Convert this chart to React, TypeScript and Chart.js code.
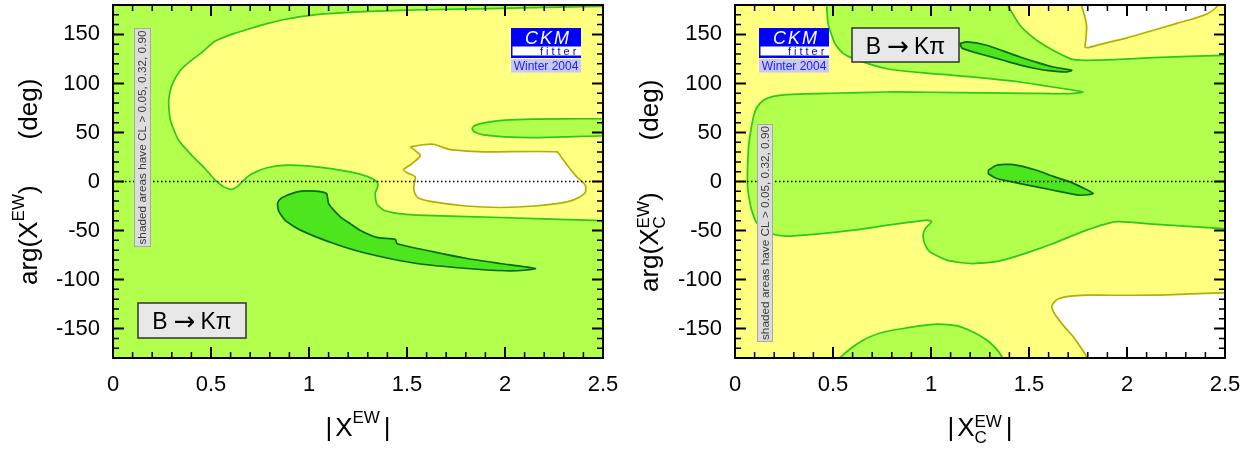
import React, { useEffect, useRef } from "react";
import { Chart, registerables } from "chart.js";

Chart.register(...registerables);

type P = [number, number];

// ---------- axis data ----------
const xTickValues = [0, 0.5, 1, 1.5, 2, 2.5];
const yTickValues = [-150, -100, -50, 0, 50, 100, 150];
const xLimits = [0, 2.5];
const yLimits = [-180, 180];
const zeroLine: P[] = [[0, 0], [2.5, 0]];

// ---------- left panel: |X^EW| vs arg(X^EW) ----------
const leftYellow: P[] = [
  [2.6, 179.2], [2.49, 178.6], [2.2, 177.6], [1.976, 176.6], [1.7, 175.6], [1.466, 174.6], [1.2, 172.5],
  [1.007, 169.5], [0.88, 165.5], [0.786, 161], [0.7, 156], [0.616, 150.8], [0.52, 143], [0.446, 130.4],
  [0.39, 122], [0.344, 113.4], [0.3, 98], [0.284, 82.8], [0.293, 62.5], [0.335, 42], [0.41, 25],
  [0.47, 13], [0.514, 3], [0.565, -5.5], [0.605, -8], [0.635, -5], [0.66, 0], [0.7, 7], [0.786, 14],
  [0.888, 16.6], [1.04, 15], [1.21, 9.8], [1.3, 5], [1.345, 0], [1.352, -4], [1.338, -12], [1.345, -22.5],
  [1.38, -29], [1.45, -32.5], [1.55, -34.3], [1.976, -36.7], [2.495, -40], [2.6, -40.5],
];
const leftGreenIsland: P[] = [
  [2.6, 64], [2.4, 64], [2.146, 63.6], [2.0, 62.5], [1.9, 60], [1.845, 57], [1.832, 54], [1.845, 50.5],
  [1.89, 47.5], [2.0, 45.5], [2.146, 44.8], [2.35, 45.8], [2.6, 47],
];
const leftWhite: P[] = [
  [1.517, 35.3], [1.58, 37.5], [1.636, 38], [1.68, 35], [1.72, 32.6], [1.89, 30.2], [2.265, 30.2],
  [2.29, 24], [2.32, 16], [2.36, 6], [2.41, -4], [2.41, -11], [2.38, -16], [2.316, -20.8], [2.15, -25],
  [1.976, -26.5], [1.8, -25], [1.636, -20.8], [1.56, -17], [1.542, -13], [1.534, -5.5], [1.542, 4.7],
  [1.5, 9], [1.483, 12.2], [1.526, 18.3], [1.56, 24], [1.568, 26.8], [1.545, 31], [1.517, 35.3],
];
const leftDark: P[] = [
  [0.888, -14], [0.94, -10.5], [0.99, -9.6], [1.05, -10], [1.09, -12.3], [1.095, -17], [1.1, -22.5],
  [1.13, -30], [1.16, -36], [1.21, -43], [1.26, -49.6], [1.347, -57], [1.44, -59], [1.45, -63.5],
  [1.636, -71.7], [1.806, -78.5], [1.976, -83.6], [2.155, -88.7], [2.1, -90.5], [2.0, -91], [1.806, -88.7],
  [1.55, -83.6], [1.296, -73.4], [1.126, -63.2], [0.956, -49.6], [0.88, -40], [0.845, -30], [0.84, -22],
  [0.858, -17], [0.888, -14],
];

// ---------- right panel: |X_C^EW| vs arg(X_C^EW) ----------
const rightGreen: P[] = [
  [0.465, 185], [0.468, 178], [0.475, 161], [0.51, 140.6], [0.55, 131], [0.604, 125.3], [0.774, 115],
  [0.95, 111], [1.114, 108.3], [1.3, 105], [1.454, 101.5], [1.6, 97], [1.709, 93.7], [1.777, 91.3],
  [1.709, 89.6], [1.5, 89.9], [1.284, 90.3], [1.0, 91], [0.774, 91.3], [0.5, 90], [0.264, 88.6],
  [0.19, 86.5], [0.145, 82.8], [0.11, 75], [0.094, 65.9], [0.075, 45], [0.068, 31.9], [0.063, -0.4],
  [0.07, -15], [0.085, -29.3], [0.11, -42], [0.145, -49.6], [0.2, -54], [0.264, -55.8], [0.4, -54],
  [0.604, -49.6], [0.8, -44], [0.978, -39.4], [1.003, -41], [0.975, -47], [0.961, -53], [0.965, -62],
  [0.99, -71], [1.08, -80.2], [1.199, -83.6], [1.3, -82.5], [1.369, -80.2], [1.5, -72], [1.624, -63.2],
  [1.794, -49.6], [1.947, -41], [2.134, -43.5], [2.49, -48], [2.6, -48.5], [2.6, 128.5], [2.49, 128.7],
  [2.134, 126.3], [1.9, 124], [1.794, 123.6], [1.74, 124], [1.709, 125.3], [1.62, 134], [1.539, 144],
  [1.49, 152], [1.454, 159.3], [1.42, 170], [1.395, 178.6], [1.39, 185],
];
const rightGreenBottom: P[] = [
  [0.53, -185], [0.536, -180], [0.57, -173.6], [0.62, -166], [0.689, -158.3], [0.77, -153], [0.859, -149.9],
  [0.95, -147], [1.029, -145.4], [1.1, -146.2], [1.148, -148], [1.22, -154], [1.284, -161.7], [1.33, -170],
  [1.361, -178.7], [1.37, -185],
];
const rightWhiteTop: P[] = [
  [1.76, 185], [1.769, 178.6], [1.785, 168], [1.794, 157.6], [1.79, 145], [1.786, 137.2], [1.8, 136.5],
  [1.845, 138.9], [2.0, 146.5], [2.134, 154.2], [2.25, 161], [2.338, 166], [2.41, 171], [2.457, 178], [2.47, 185],
];
const rightWhiteBottom: P[] = [
  [2.6, -113], [2.49, -113.5], [2.3, -114.8], [2.134, -115.9], [1.9, -116], [1.794, -115.9], [1.7, -117.2],
  [1.65, -119.5], [1.628, -123], [1.616, -127.8], [1.625, -133], [1.641, -138], [1.68, -148], [1.726, -158.3],
  [1.76, -168], [1.794, -178.7], [1.8, -185], [2.6, -185],
];
const rightDarkTop: P[] = [
  [1.148, 140.6], [1.182, 142.3], [1.284, 139], [1.37, 133], [1.454, 127], [1.54, 121.5], [1.624, 116.8],
  [1.718, 113.4], [1.692, 111.7], [1.6, 113], [1.539, 115], [1.45, 119], [1.369, 123.6], [1.29, 128],
  [1.216, 132.1], [1.157, 136.2], [1.148, 140.6],
];
const rightDarkMid: P[] = [
  [1.293, 11.5], [1.335, 16.6], [1.42, 17.3], [1.539, 11.5], [1.62, 5.5], [1.709, -0.4], [1.77, -6],
  [1.828, -12.3], [1.76, -14], [1.624, -8.9], [1.454, -2.1], [1.335, 3], [1.293, 8], [1.293, 11.5],
];

// ---------- styling ----------
const YELLOW = "#ffff80";
const LIGHT = "#b3ff4d";
const DARK = "#4ce51e";
const LINE_G = "#2cc81a";
const LINE_D = "#0b6a0b";
const LINE_W = "#b0b000";
const FONT = '"Liberation Sans", Arial, Helvetica, sans-serif';
const ARROW_FONT = '"DejaVu Sans", sans-serif';

type Part =
  | { t: string; size: number; dy?: number; family?: string }
  | { gap: number }
  | { sup: string; sub: string; size: number; supDy: number; subDy: number };

function f(size: number, family?: string) {
  return `${size}px ${family || FONT}`;
}
function partWidth(ctx: CanvasRenderingContext2D, p: Part): number {
  if ("gap" in p) return p.gap;
  if ("t" in p) {
    ctx.font = f(p.size, p.family);
    return ctx.measureText(p.t).width;
  }
  ctx.font = f(p.size);
  return Math.max(ctx.measureText(p.sup).width, ctx.measureText(p.sub).width);
}
function drawParts(ctx: CanvasRenderingContext2D, parts: Part[], x: number, y: number) {
  let cx = x;
  for (const p of parts) {
    const w = partWidth(ctx, p);
    if ("t" in p) {
      ctx.font = f(p.size, p.family);
      ctx.fillText(p.t, cx, y + (p.dy || 0));
    } else if ("sup" in p) {
      ctx.font = f(p.size);
      ctx.fillText(p.sup, cx, y + p.supDy);
      ctx.fillText(p.sub, cx, y + p.subDy);
    }
    cx += w;
  }
  return cx - x;
}
function totalWidth(ctx: CanvasRenderingContext2D, parts: Part[]) {
  return parts.reduce((s, p) => s + partWidth(ctx, p), 0);
}

const processLabel: Part[] = [
  { t: "B", size: 23 },
  { gap: 6 },
  { t: "\u2192", size: 26, family: ARROW_FONT, dy: 1 },
  { gap: 5 },
  { t: "K\u03c0", size: 23 },
];

type Region = { pts: P[]; fill: string; line: string; order: number };

type Spec = {
  offset: number;
  bg: string;
  regions: Region[];
  plotLeft: number;
  padRight: number;
  xTitle: Part[];
  xTitleCenter: number;
  yTitle: Part[];
  yTitleX: number;
  yTitleStart: number;
  box: [number, number, number, number];
  logoX: number;
  cl: [number, number, number, number];
};

function makeConfig(spec: Spec): any {
  const datasets: any[] = spec.regions.map((r) => ({
    data: r.pts.map(([x, y]) => ({ x, y })),
    backgroundColor: r.fill,
    borderColor: r.line,
    borderWidth: 1.7,
    fill: "shape",
    pointRadius: 0,
    tension: 0.2,
    order: r.order,
    clip: 0,
  }));
  datasets.push({
    data: zeroLine.map(([x, y]) => ({ x, y })),
    borderColor: "#000",
    borderWidth: 1.4,
    borderDash: [1.5, 2.5],
    fill: false,
    pointRadius: 0,
    order: 0,
    clip: 0,
  });

  const decor = {
    id: "decor",
    beforeDatasetsDraw(chart: any) {
      const { ctx, chartArea: a } = chart;
      ctx.save();
      ctx.fillStyle = spec.bg;
      ctx.fillRect(a.left, a.top, a.right - a.left, a.bottom - a.top);
      ctx.restore();
    },
    afterDraw(chart: any) {
      const { ctx, chartArea: a } = chart;
      const xs = chart.scales.x;
      const ys = chart.scales.y;
      ctx.save();
      // CL note box
      const [cx0, cy0, cx1, cy1] = spec.cl;
      ctx.fillStyle = "#dcdcdc";
      ctx.strokeStyle = "#a8a8a8";
      ctx.lineWidth = 1;
      ctx.fillRect(cx0, cy0, cx1 - cx0, cy1 - cy0);
      ctx.strokeRect(cx0 + 0.5, cy0 + 0.5, cx1 - cx0 - 1, cy1 - cy0 - 1);
      ctx.save();
      ctx.translate((cx0 + cx1) / 2 + 0.5, (cy0 + cy1) / 2);
      ctx.rotate(-Math.PI / 2);
      ctx.fillStyle = "#3c3c3c";
      ctx.font = f(11.8);
      ctx.textAlign = "center";
      ctx.textBaseline = "middle";
      ctx.fillText("shaded areas have CL > 0.05, 0.32, 0.90", 0, 0);
      ctx.restore();

      // B -> K pi box
      const [bx0, by0, bx1, by1] = spec.box;
      ctx.fillStyle = "#e8e8e8";
      ctx.fillRect(bx0, by0, bx1 - bx0, by1 - by0);
      ctx.strokeStyle = "#333";
      ctx.lineWidth = 1.5;
      ctx.strokeRect(bx0, by0, bx1 - bx0, by1 - by0);
      ctx.fillStyle = "#000";
      ctx.textAlign = "left";
      ctx.textBaseline = "alphabetic";
      const bw = totalWidth(ctx, processLabel);
      drawParts(ctx, processLabel, (bx0 + bx1) / 2 - bw / 2, (by0 + by1) / 2 + 8.5);

      // CKM fitter logo
      const lx = spec.logoX;
      ctx.fillStyle = "#0000ff";
      ctx.fillRect(lx, 28, 70, 30);
      ctx.fillStyle = "#ffffff";
      ctx.fillRect(lx + 1.5, 46.5, 68.5, 9);
      ctx.fillStyle = "#ffffff";
      ctx.font = `italic 18px ${FONT}`;
      (ctx as any).letterSpacing = "2px";
      ctx.textAlign = "center";
      ctx.textBaseline = "alphabetic";
      ctx.fillText("CKM", lx + 37, 44);
      ctx.fillStyle = "#0000ff";
      ctx.font = f(11);
      (ctx as any).letterSpacing = "3px";
      ctx.textAlign = "left";
      ctx.fillText("fitter", lx + 29, 55);
      (ctx as any).letterSpacing = "0px";
      ctx.fillStyle = "#c8c8ff";
      ctx.fillRect(lx, 59, 70, 13.5);
      ctx.fillStyle = "#2020e8";
      ctx.font = f(12);
      ctx.textAlign = "center";
      ctx.fillText("Winter 2004", lx + 35, 70);

      // inward ticks
      ctx.strokeStyle = "#000";
      for (let i = 0; i <= 25; i++) {
        const v = i / 10;
        const px = xs.getPixelForValue(v);
        const major = i % 5 === 0;
        const len = major ? 11 : 6;
        ctx.lineWidth = major ? 2 : 1.5;
        ctx.beginPath();
        ctx.moveTo(px, a.bottom);
        ctx.lineTo(px, a.bottom - len);
        ctx.moveTo(px, a.top);
        ctx.lineTo(px, a.top + len);
        ctx.stroke();
      }
      for (let v = -180; v <= 180; v += 10) {
        const py = ys.getPixelForValue(v);
        const major = v % 50 === 0;
        const len = major ? 11 : 6;
        ctx.lineWidth = major ? 2 : 1.5;
        ctx.beginPath();
        ctx.moveTo(a.left, py);
        ctx.lineTo(a.left + len, py);
        ctx.moveTo(a.right, py);
        ctx.lineTo(a.right - len, py);
        ctx.stroke();
      }
      // frame
      ctx.lineWidth = 2;
      ctx.strokeRect(a.left, a.top, a.right - a.left, a.bottom - a.top);

      // axis titles
      ctx.fillStyle = "#000";
      ctx.textAlign = "left";
      ctx.textBaseline = "alphabetic";
      const wx = totalWidth(ctx, spec.xTitle);
      drawParts(ctx, spec.xTitle, spec.xTitleCenter - wx / 2, 436);
      ctx.save();
      ctx.translate(spec.yTitleX, spec.yTitleStart);
      ctx.rotate(-Math.PI / 2);
      drawParts(ctx, spec.yTitle, 0, 0);
      ctx.restore();
      ctx.restore();
    },
  };

  return {
    type: "line",
    data: { datasets },
    plugins: [decor],
    options: {
      animation: false,
      responsive: false,
      devicePixelRatio: 1,
      events: [],
      layout: { padding: { left: 0, right: spec.padRight, top: 5, bottom: 0 } },
      plugins: { legend: { display: false }, tooltip: { enabled: false }, title: { display: false } },
      scales: {
        x: {
          type: "linear",
          min: xLimits[0],
          max: xLimits[1],
          grid: { display: false, drawTicks: false },
          border: { display: false },
          afterBuildTicks: (s: any) => {
            s.ticks = xTickValues.map((v) => ({ value: v }));
          },
          afterFit: (s: any) => {
            s.height = 91;
            s.paddingLeft = 0;
            s.paddingRight = 0;
          },
          ticks: {
            color: "#000",
            font: { family: FONT, size: 22 },
            padding: 14,
            maxRotation: 0,
            autoSkip: false,
            callback: (v: number) => String(v),
          },
        },
        y: {
          type: "linear",
          min: yLimits[0],
          max: yLimits[1],
          grid: { display: false, drawTicks: false },
          border: { display: false },
          afterBuildTicks: (s: any) => {
            s.ticks = yTickValues.map((v) => ({ value: v }));
          },
          afterFit: (s: any) => {
            s.width = spec.plotLeft;
            s.paddingTop = 0;
            s.paddingBottom = 0;
          },
          ticks: {
            color: "#000",
            font: { family: FONT, size: 22 },
            padding: 13,
            autoSkip: false,
            callback: (v: number) => String(v),
          },
        },
      },
    },
  };
}

const leftSpec: Spec = {
  offset: 0,
  bg: LIGHT,
  regions: [
    { pts: leftYellow, fill: YELLOW, line: LINE_G, order: 10 },
    { pts: leftGreenIsland, fill: LIGHT, line: LINE_G, order: 9 },
    { pts: leftWhite, fill: "#ffffff", line: LINE_W, order: 8 },
    { pts: leftDark, fill: DARK, line: LINE_D, order: 7 },
  ],
  plotLeft: 113,
  padRight: 21,
  xTitle: [
    { t: "|", size: 26 },
    { gap: 3 },
    { t: "X", size: 26 },
    { t: "EW", size: 17, dy: -13 },
    { gap: 4 },
    { t: "|", size: 26 },
  ],
  xTitleCenter: 358,
  yTitle: [
    { t: "arg(X", size: 26 },
    { t: "EW", size: 17, dy: -13 },
    { t: ")", size: 26 },
    { gap: 46 },
    { t: "(deg)", size: 26 },
  ],
  yTitleX: 37,
  yTitleStart: 285,
  box: [138, 303, 246, 338],
  logoX: 511,
  cl: [134, 28, 151, 247],
};

const rightSpec: Spec = {
  offset: 624,
  bg: YELLOW,
  regions: [
    { pts: rightGreen, fill: LIGHT, line: LINE_G, order: 10 },
    { pts: rightGreenBottom, fill: LIGHT, line: LINE_G, order: 10 },
    { pts: rightWhiteTop, fill: "#ffffff", line: LINE_W, order: 8 },
    { pts: rightWhiteBottom, fill: "#ffffff", line: LINE_W, order: 8 },
    { pts: rightDarkTop, fill: DARK, line: LINE_D, order: 7 },
    { pts: rightDarkMid, fill: DARK, line: LINE_D, order: 7 },
  ],
  plotLeft: 111,
  padRight: 23,
  xTitle: [
    { t: "|", size: 26 },
    { gap: 3 },
    { t: "X", size: 26 },
    { sup: "EW", sub: "C", size: 17, supDy: -9, subDy: 7 },
    { gap: 4 },
    { t: "|", size: 26 },
  ],
  xTitleCenter: 356,
  yTitle: [
    { t: "arg(X", size: 26 },
    { sup: "EW", sub: "C", size: 17, supDy: -9, subDy: 7 },
    { t: ")", size: 26 },
    { gap: 52 },
    { t: "(deg)", size: 26 },
  ],
  yTitleX: 34,
  yTitleStart: 292,
  box: [228, 28, 335, 62],
  logoX: 135,
  cl: [133, 124, 149, 342],
};

function Panel({ spec }: { spec: Spec }) {
  const ref = useRef<HTMLCanvasElement>(null);
  useEffect(() => {
    const chart = new Chart(ref.current as HTMLCanvasElement, makeConfig(spec));
    return () => chart.destroy();
  }, [spec]);
  return (
    <canvas
      ref={ref}
      width={624}
      height={449}
      style={{ position: "absolute", left: spec.offset, top: 0, width: 624, height: 449 }}
    />
  );
}

export default function App() {
  return (
    <div style={{ position: "absolute", left: 0, top: 0, width: 1248, height: 449, background: "#fff" }}>
      <Panel spec={leftSpec} />
      <Panel spec={rightSpec} />
    </div>
  );
}
